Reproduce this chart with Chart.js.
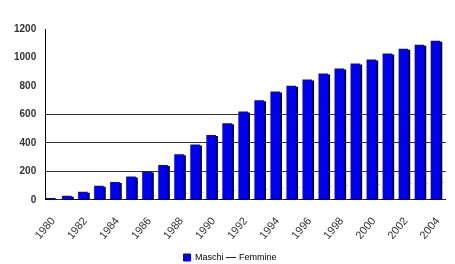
<!DOCTYPE html>
<html>
<head>
<meta charset="utf-8">
<script src="https://cdn.jsdelivr.net/npm/chart.js@4"></script>
<style>
  body { margin: 0; background: #fff; }
  #wrap { width: 455px; height: 264px; }
</style>
</head>
<body>
<div id="wrap"><canvas id="myChart"></canvas></div>
<script>
// values
const years = ['1980', '1981', '1982', '1983', '1984', '1985', '1986', '1987', '1988', '1989',
  '1990', '1991', '1992', '1993', '1994', '1995', '1996', '1997', '1998', '1999',
  '2000', '2001', '2002', '2003', '2004'];
const maschi = [12, 28, 56, 98, 124, 163, 198, 245, 319, 389,
  455, 538, 620, 699, 760, 802, 846, 888, 922, 957,
  985, 1027, 1062, 1090, 1118];
const femmine = [2, 4, 8, 12, 18, 22, 30, 38, 45, 52,
  58, 63, 68, 72, 78, 85, 90, 95, 100, 103,
  107, 110, 113, 116, 120];
const yTicks = [0, 200, 400, 600, 800, 1000, 1200];
const gridValues = [200, 400, 600];

// dark offset shadow behind the bars
const barShadow = {
    id: 'barShadow',
    beforeDatasetDraw(chart, args) {
        const ctx = chart.ctx;
        ctx.save();
        ctx.shadowColor = args.index === 0 ? '#000010' : '#101010';
        ctx.shadowOffsetX = args.index === 0 ? 2 : -1;
        ctx.shadowOffsetY = args.index === 0 ? 1 : 0;
        ctx.shadowBlur = 0;
    },
    afterDatasetDraw(chart) {
        chart.ctx.restore();
    }
};

function initChart() {
    const data = {
        labels: years,
        datasets: [{
            label: 'Maschi',
            data: maschi,
            backgroundColor: '#0000f0',
            categoryPercentage: 0.6,
            barPercentage: 2.0,
            pointStyle: 'rect'
        }, {
            label: 'Femmine',
            data: femmine,
            backgroundColor: '#ffffff',
            borderWidth: 0,
            categoryPercentage: 0.6,
            barPercentage: 2.0,
            pointStyle: 'line'
        }]
    };

    const config = {
        type: 'bar',
        data: data,
        plugins: [barShadow],
        options: {
            responsive: true,
            maintainAspectRatio: false,
            animation: false,
            layout: { padding: { top: 29, left: 5, right: 0, bottom: -8 } },
            plugins: {
                tooltip: { enabled: false },
                legend: {
                    position: 'bottom',
                    labels: {
                        usePointStyle: true,
                        boxWidth: 7,
                        boxHeight: 7,
                        padding: 4,
                        color: '#222',
                        font: { family: 'Liberation Sans', size: 9 },
                        generateLabels(chart) {
                            return chart.data.datasets.map((ds, i) => ({
                                text: ds.label,
                                fillStyle: i === 0 ? '#0000f0' : '#ffffff',
                                strokeStyle: i === 0 ? '#0000f0' : '#222222',
                                lineWidth: 1,
                                pointStyle: ds.pointStyle,
                                datasetIndex: i
                            }));
                        }
                    }
                }
            },
            scales: {
                x: {
                    grid: { display: false },
                    border: { display: true, color: '#000', width: 1 },
                    ticks: {
                        autoSkip: false,
                        minRotation: 50,
                        maxRotation: 50,
                        padding: 7,
                        color: '#333',
                        font: { family: 'Liberation Sans', size: 11 },
                        callback(value, index) {
                            return index % 2 === 0 ? years[index] : '';
                        }
                    }
                },
                y: {
                    min: 0,
                    max: 1200,
                    afterBuildTicks(axis) {
                        axis.ticks = yTicks.map(v => ({ value: v }));
                    },
                    border: { display: true, color: '#000', width: 1 },
                    grid: {
                        drawTicks: false,
                        color(ctx) {
                            return gridValues.includes(ctx.tick.value) ? '#333' : 'rgba(0,0,0,0)';
                        }
                    },
                    ticks: {
                        padding: 9,
                        color: '#333',
                        font: { family: 'Liberation Sans', size: 10, weight: 'bold' },
                        callback(value) {
                            return String(value);
                        }
                    }
                }
            }
        }
    };
    new Chart(document.getElementById('myChart'), config);
}

document.addEventListener('DOMContentLoaded', function() {
    initChart();
});
</script>
</body>
</html>
